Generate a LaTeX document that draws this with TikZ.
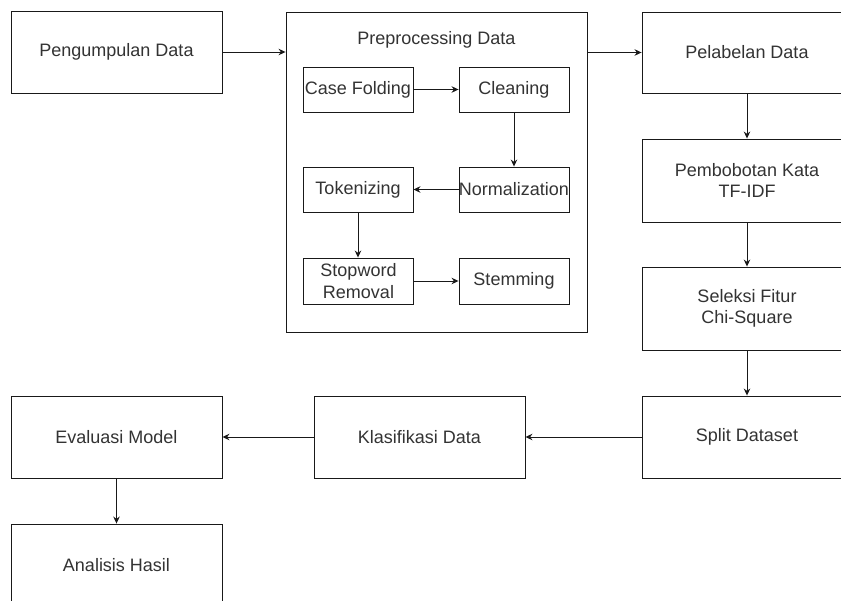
\documentclass[tikz,border=0pt]{standalone}
\usepackage{fontspec}
\setmainfont{Liberation Sans}
\usetikzlibrary{arrows.meta}
\begin{document}
\begin{tikzpicture}[x=1pt,y=-1pt,
  box/.style={draw=black!90, line width=0.9pt, rectangle, inner sep=0pt,
    minimum width=#1, align=center, text=black!80,
    font=\fontsize{18}{21.6}\selectfont},
  box/.default=211pt,
  flow/.style={draw=black!90, line width=0.9pt, -{Stealth[length=7pt,width=6.5pt]}},
  lbl/.style={inner sep=0pt, text=black!80, font=\fontsize{18}{21.6}\selectfont}]
\clip (0,0) rectangle (841,601);
\fill[white] (0,0) rectangle (841,601);
% left column / top
\node[box, minimum height=82pt] (pen) at (116.5,52) {Pengumpulan Data};
% preprocessing container
\node[box=301pt, minimum height=320pt] (pre) at (436.5,172) {};
\node[lbl] (pretitle) at (436.5,40) {Preprocessing Data};
\node[box=110pt, minimum height=45pt] (cf) at (358,89.5) {Case Folding};
\node[box=110pt, minimum height=45pt] (cl) at (514,89.5) {Cleaning};
\node[box=110pt, minimum height=45pt] (tok) at (358,189.5) {Tokenizing};
\node[box=110pt, minimum height=45pt] (nor) at (514,189.5) {Normalization};
\node[box=110pt, minimum height=46pt] (sw) at (358.5,281) {Stopword\\Removal};
\node[box=110pt, minimum height=46pt] (st) at (514,281) {Stemming};
% right column
\node[box=210pt, minimum height=81pt] (pel) at (747,52.5) {Pelabelan Data};
\node[box=210pt, minimum height=83pt] (bob) at (747,180.5) {Pembobotan Kata\\TF-IDF};
\node[box=210pt, minimum height=83pt] (sel) at (747,308.5) {Seleksi Fitur\\Chi-Square};
\node[box=210pt, minimum height=82pt] (spl) at (747,437) {Split Dataset};
% bottom row
\node[box, minimum height=82pt] (kla) at (419.5,437) {Klasifikasi Data};
\node[box, minimum height=82pt] (eva) at (116.5,437) {Evaluasi Model};
\node[box, minimum height=82pt] (ana) at (116.5,565) {Analisis Hasil};
% connectors
\draw[flow] (pen.east) -- (pen.east -| pre.west);
\draw[flow] (pre.east |- pel.west) -- (pel.west);
\draw[flow] (cf) -- (cl);
\draw[flow] (cl) -- (nor);
\draw[flow] (nor) -- (tok);
\draw[flow] (tok) -- (tok.south |- sw.north);
\draw[flow] (sw) -- (st);
\draw[flow] (pel) -- (bob);
\draw[flow] (bob) -- (sel);
\draw[flow] (sel) -- (spl);
\draw[flow] (spl) -- (kla);
\draw[flow] (kla) -- (eva);
\draw[flow] (eva) -- (ana);
\end{tikzpicture}
\end{document}
